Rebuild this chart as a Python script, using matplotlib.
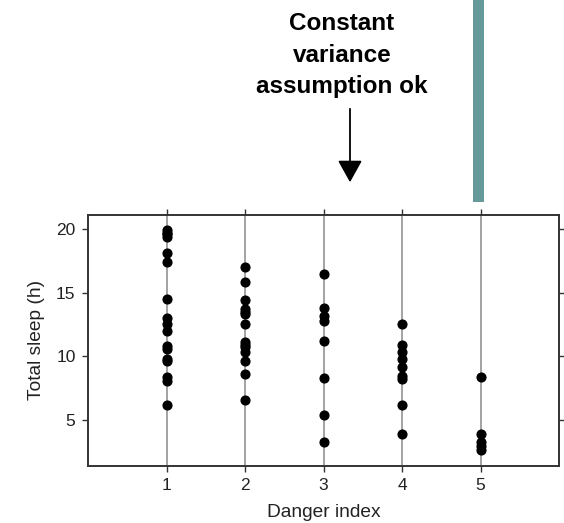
import matplotlib
matplotlib.use("Agg")
import matplotlib.pyplot as plt
from matplotlib.patches import Rectangle, FancyArrowPatch

plt.rcParams['font.family'] = ['Liberation Sans', 'DejaVu Sans']

danger_1 = [19.9, 19.7, 19.6, 19.4, 18.1, 17.4, 14.5, 13.0, 12.5, 12.0, 10.8, 10.6, 9.75, 9.6, 8.4, 8.05, 6.2]
danger_2 = [17.0, 15.8, 14.4, 13.75, 13.5, 13.3, 12.5, 11.1, 10.9, 10.7, 10.3, 9.6, 8.6, 6.6]
danger_3 = [16.5, 13.8, 13.2, 12.8, 11.2, 8.3, 5.4, 3.3]
danger_4 = [12.5, 10.9, 10.3, 9.8, 9.15, 8.45, 8.2, 6.2, 3.9]
danger_5 = [8.4, 3.9, 3.25, 2.95, 2.6]
groups = [danger_1, danger_2, danger_3, danger_4, danger_5]
x_ticks = [1, 2, 3, 4, 5]
y_ticks = [5, 10, 15, 20]
annotation = "Constant\nvariance\nassumption ok"

W, H = 564, 523
fig = plt.figure(figsize=(W / 100, H / 100), dpi=100)

def fx(px):
    return px / W

def fy(py):
    return 1 - py / H

ax = fig.add_axes([fx(88), fy(465.7), fx(559) - fx(88), fy(215) - fy(465.7)])

for xv in x_ticks:
    ax.axvline(xv, color='#8a8a8a', lw=1.1, zorder=1)

for xv, vals in zip(x_ticks, groups):
    ax.plot([xv] * len(vals), vals, 'o', color='black', ms=6.3, zorder=3)

ax.set_xlim(0, 6)
ax.set_ylim(1.4, 21.1)
ax.set_xticks(x_ticks)
ax.set_yticks(y_ticks)
ax.tick_params(axis='both', direction='out', length=4, width=1, colors='#333333',
               labelcolor='#222222', labelsize=12.5, pad=5,
               top=True, right=True, labeltop=False, labelright=False)
for s in ax.spines.values():
    s.set_linewidth(1.4)
    s.set_color('#333333')

ax.set_xlabel('Danger index', fontsize=13.75, color='#222222', labelpad=8)
ax.set_ylabel('Total sleep (h)', fontsize=13.75, color='#222222', labelpad=8)

fig.text(fx(342), fy(55), annotation, ha='center', va='center', fontsize=17.5,
         fontweight='bold', linespacing=1.45, color='black')

arrow = FancyArrowPatch((fx(350), fy(106)), (fx(350), fy(185)), transform=fig.transFigure,
                        arrowstyle='-|>,head_length=0.9,head_width=0.5', color='black',
                        lw=1.3, mutation_scale=15)
fig.add_artist(arrow)

bar = Rectangle((fx(473.3), fy(201.7)), fx(484.3) - fx(473.3), fy(0) - fy(201.7),
                transform=fig.transFigure, color='#669999', lw=0)
fig.add_artist(bar)

fig.savefig('out.png', dpi=100)
